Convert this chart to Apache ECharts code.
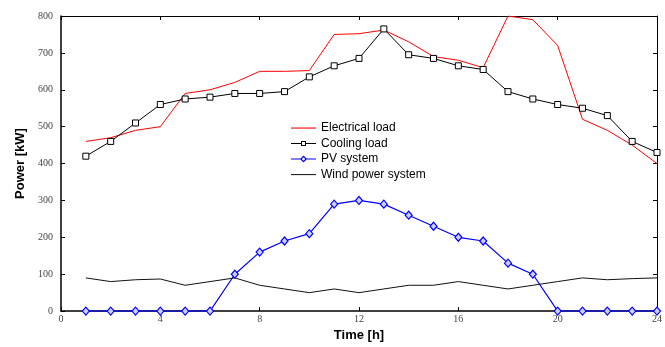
<!DOCTYPE html>
<html>
<head>
<meta charset="utf-8">
<script src="https://cdn.jsdelivr.net/npm/echarts@6/dist/echarts.min.js"></script>
<style>html,body{margin:0;padding:0;background:#fff}#c{width:665px;height:347px}</style>
</head>
<body>
<div id="c"></div>
<script>
const hours = [1,2,3,4,5,6,7,8,9,10,11,12,13,14,15,16,17,18,19,20,21,22,23,24];
const electricalLoad = [460,470,490,500,590,600,620,650,650,652,750,752,762,730,690,680,660,800,790,720,520,490,450,400];
const coolingLoad = [420,460,510,560,575,580,590,590,595,635,665,685,765,695,685,665,655,595,575,560,550,530,460,430];
const pvSystem = [0,0,0,0,0,0,100,160,190,210,290,300,290,260,230,200,190,130,100,0,0,0,0,0];
const windPower = [90,80,85,87,70,80,90,70,60,50,60,50,60,70,70,80,70,60,70,80,90,85,88,90];
const xTicks = [0,4,8,12,16,20,24];
const yTicks = [0,100,200,300,400,500,600,700,800];
const seriesNames = ['Electrical load','Cooling load','PV system','Wind power system'];

const pairs = arr => hours.map((h,i)=>[h,arr[i]]);
const lineIcon = 'path://M0,0 L0,0 M0,3.5 L25,3.5 L25,4.6 L0,4.6 Z M25,8 L25,8';
const squareIcon = 'path://M0,0 L0,0 M0,3.5 L10,3.5 L10,4.5 L0,4.5 Z M15,3.5 L25,3.5 L25,4.5 L15,4.5 Z M10,1.5 L15,1.5 L15,6.5 L10,6.5 Z M11,2.5 L11,5.5 L14,5.5 L14,2.5 Z M25,8 L25,8';
const diamondIcon = 'path://M0,0 L0,0 M0,3.4 L9.5,3.4 L9.5,4.6 L0,4.6 Z M15.5,3.4 L25,3.4 L25,4.6 L15.5,4.6 Z M12.5,0.5 L16,4 L12.5,7.5 L9,4 Z M12.5,2.2 L10.8,4 L12.5,5.8 L14.2,4 Z M25,8 L25,8';
const chart = echarts.init(document.getElementById('c'), null, {renderer:'canvas'});
const tickFont = {fontFamily:'Liberation Serif', fontSize:10, color:'#444'};
const legendStyle = c => ({color:c, borderWidth:0, borderColor:'transparent'});
chart.setOption({
  animation:false,
  backgroundColor:'#fff',
  grid:{left:61, right:4, top:16, bottom:33, containLabel:false},
  legend:{
    orient:'vertical', left:286, top:117,
    itemWidth:25, itemHeight:8, itemGap:3.5,
    textStyle:{fontFamily:'Liberation Sans', fontSize:12, color:'#000', lineHeight:12},
    data:[
      {name:seriesNames[0], icon:lineIcon, itemStyle:legendStyle('#ff0000')},
      {name:seriesNames[1], icon:squareIcon, itemStyle:legendStyle('#000')},
      {name:seriesNames[2], icon:diamondIcon, itemStyle:legendStyle('#0000ff')},
      {name:seriesNames[3], icon:lineIcon, itemStyle:legendStyle('#222')}
    ]
  },
  xAxis:[{
    type:'value', min:xTicks[0], max:xTicks[xTicks.length-1], interval:4,
    name:'Time [h]', nameLocation:'middle', nameGap:16,
    nameTextStyle:{fontFamily:'Liberation Sans', fontSize:13, fontWeight:'bold', color:'#000'},
    axisLine:{onZero:false, lineStyle:{color:'#000', width:1.5}},
    axisTick:{inside:true, length:4, lineStyle:{color:'#000'}},
    axisLabel:Object.assign({margin:3}, tickFont),
    splitLine:{show:false}
  },{
    type:'value', position:'top', min:0, max:24, interval:4,
    axisLine:{show:true, onZero:false, lineStyle:{color:'#000', width:1}},
    axisTick:{inside:true, length:4, lineStyle:{color:'#000'}},
    axisLabel:{show:false}, splitLine:{show:false}
  }],
  yAxis:[{
    type:'value', min:yTicks[0], max:yTicks[yTicks.length-1], interval:100,
    name:'Power [kW]', nameLocation:'middle', nameGap:22,
    nameTextStyle:{fontFamily:'Liberation Sans', fontSize:13, fontWeight:'bold', color:'#000'},
    axisLine:{show:true, onZero:false, lineStyle:{color:'#000', width:1.5}},
    axisTick:{show:true, inside:true, length:4, lineStyle:{color:'#000'}},
    axisLabel:Object.assign({margin:8}, tickFont),
    splitLine:{show:false}
  },{
    type:'value', position:'right', min:0, max:800, interval:100,
    axisLine:{show:true, onZero:false, lineStyle:{color:'#000', width:1}},
    axisTick:{show:true, inside:true, length:4, lineStyle:{color:'#000'}},
    axisLabel:{show:false}, splitLine:{show:false}
  }],
  series:[
    {name:seriesNames[0], type:'line', data:pairs(electricalLoad), symbol:'none',
     lineStyle:{color:'#ff0000', width:1}, itemStyle:{color:'#ff0000'}},
    {name:seriesNames[1], type:'line', data:pairs(coolingLoad), symbol:'rect', symbolSize:6,
     lineStyle:{color:'#000', width:1}, itemStyle:{color:'#fff', borderColor:'#000', borderWidth:1}},
    {name:seriesNames[2], type:'line', data:pairs(pvSystem), symbol:'diamond', symbolSize:[7,8],
     lineStyle:{color:'#0000ff', width:1.2}, itemStyle:{color:'#ccd0ff', borderColor:'#0000ff', borderWidth:1.2}, z:3},
    {name:seriesNames[3], type:'line', data:pairs(windPower), symbol:'none',
     lineStyle:{color:'#111', width:1}, itemStyle:{color:'#111'}}
  ]
});
</script>
</body>
</html>
